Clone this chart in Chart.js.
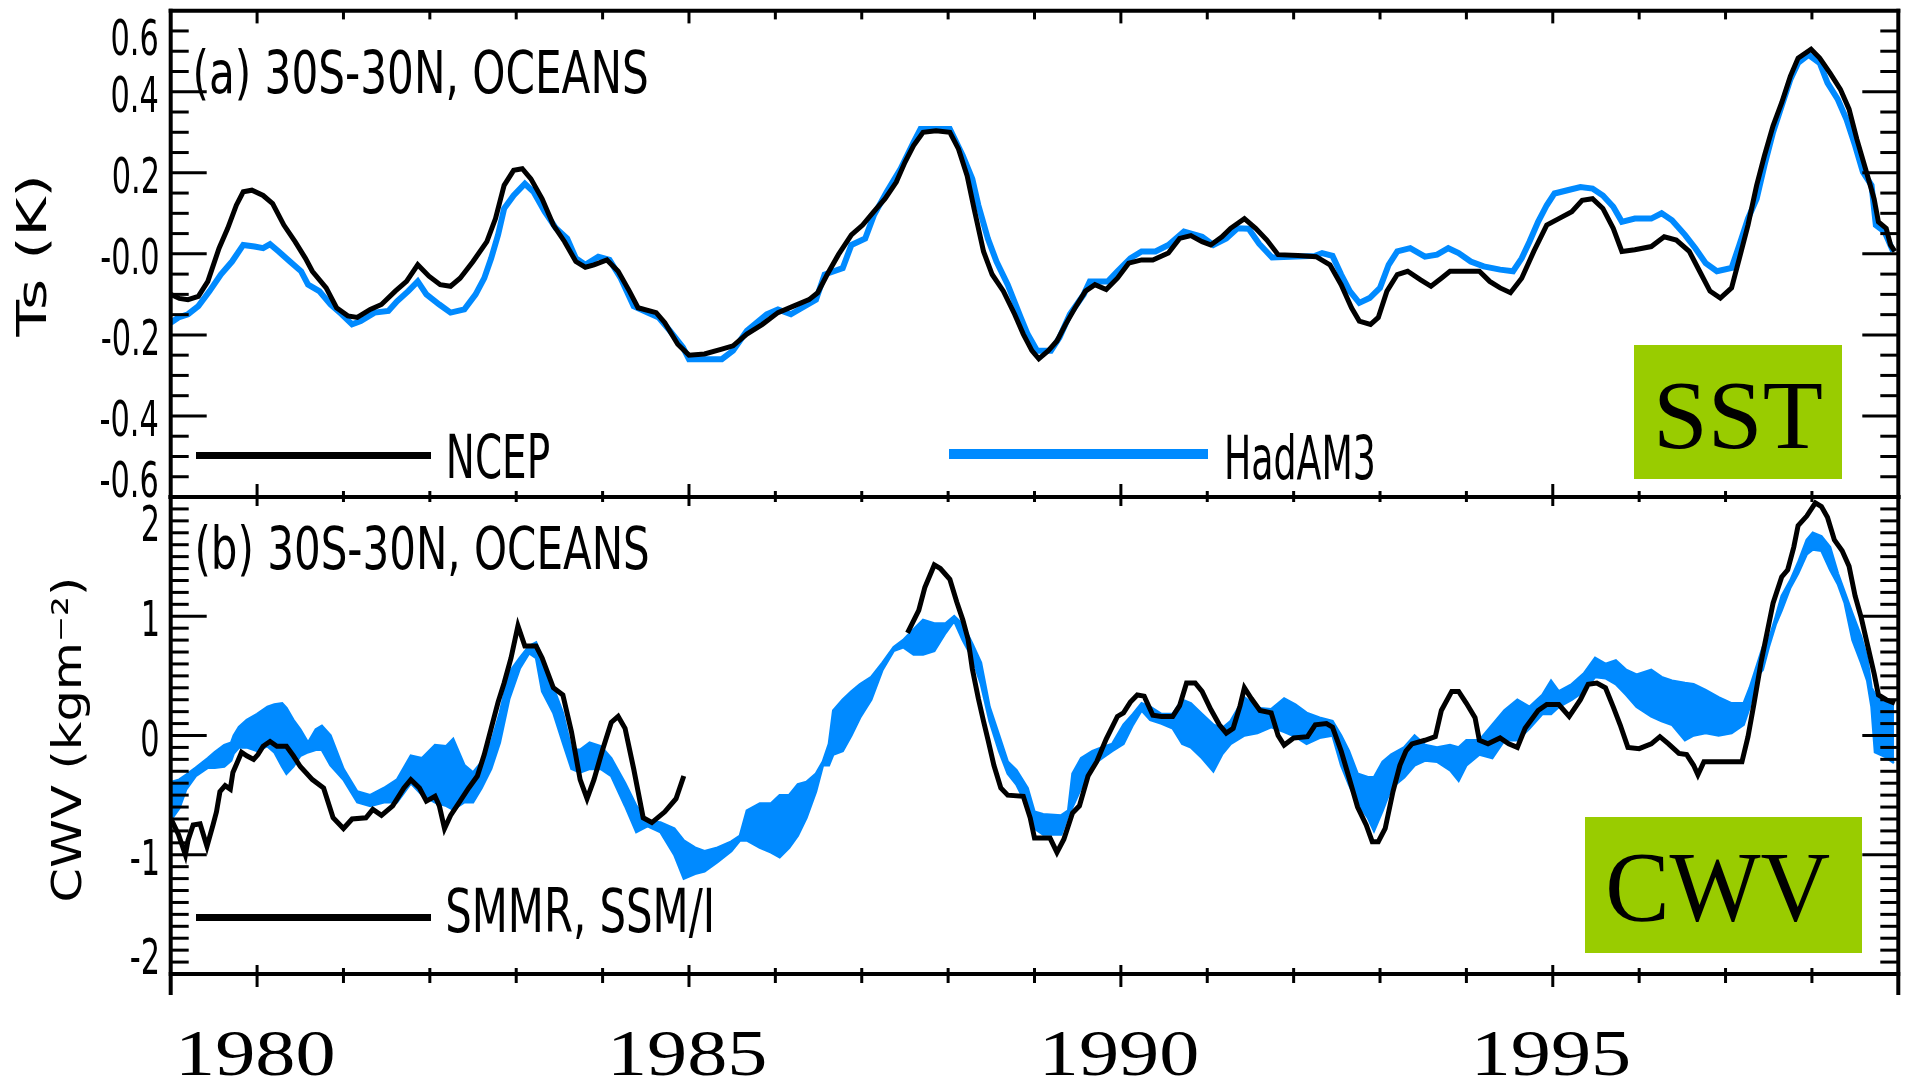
<!DOCTYPE html>
<html>
<head>
<meta charset="utf-8">
<title>Ts and CWV, 30S-30N oceans</title>
<script src="https://cdn.jsdelivr.net/npm/chart.js@4.4.0/dist/chart.umd.min.js"></script>
<style>
  html, body { margin: 0; padding: 0; background: #fff; width: 1907px; height: 1077px; overflow: hidden; }
  canvas { position: absolute; left: 0; top: 0; }
</style>
</head>
<body>
<canvas id="tsChart" width="1907" height="1077"></canvas>
<canvas id="cwvChart" width="1907" height="1077"></canvas>
<script>
// ---------------- data ----------------
// Surface temperature anomaly (K), [year, value]
const ncepTs = [
  [1979.00,-0.10],[1979.10,-0.11],[1979.20,-0.113],[1979.32,-0.105],[1979.43,-0.068],[1979.56,0.014],[1979.66,0.063],[1979.76,0.12],[1979.84,0.153],[1979.94,0.157],
  [1980.07,0.144],[1980.18,0.124],[1980.31,0.071],[1980.44,0.03],[1980.56,-0.011],[1980.64,-0.043],[1980.80,-0.084],[1980.92,-0.133],[1981.05,-0.153],[1981.16,-0.157],
  [1981.31,-0.137],[1981.44,-0.125],[1981.60,-0.092],[1981.73,-0.068],[1981.86,-0.027],[1981.99,-0.055],[1982.12,-0.076],[1982.24,-0.08],[1982.35,-0.06],[1982.50,-0.019],
  [1982.66,0.03],[1982.76,0.087],[1982.86,0.169],[1982.97,0.206],[1983.07,0.21],[1983.17,0.185],[1983.30,0.136],[1983.43,0.071],[1983.56,0.03],[1983.69,-0.019],
  [1983.80,-0.033],[1983.90,-0.027],[1984.05,-0.015],[1984.18,-0.043],[1984.31,-0.092],[1984.41,-0.133],[1984.62,-0.145],[1984.72,-0.17],[1984.87,-0.223],[1985.00,-0.25],
  [1985.18,-0.247],[1985.38,-0.235],[1985.51,-0.227],[1985.67,-0.198],[1985.85,-0.174],[1986.03,-0.145],[1986.21,-0.129],[1986.39,-0.113],[1986.49,-0.096],[1986.60,-0.051],
  [1986.73,-0.002],[1986.88,0.047],[1987.01,0.071],[1987.14,0.104],[1987.27,0.136],[1987.40,0.177],[1987.50,0.226],[1987.60,0.267],[1987.71,0.30],[1987.86,0.304],
  [1988.02,0.30],[1988.12,0.259],[1988.22,0.193],[1988.30,0.112],[1988.41,0.006],[1988.51,-0.051],[1988.64,-0.092],[1988.77,-0.149],[1988.87,-0.198],[1988.97,-0.239],
  [1989.05,-0.259],[1989.16,-0.239],[1989.26,-0.215],[1989.36,-0.174],[1989.47,-0.133],[1989.59,-0.092],[1989.70,-0.076],[1989.83,-0.088],[1989.96,-0.06],[1990.09,-0.023],
  [1990.24,-0.015],[1990.37,-0.015],[1990.55,0.002],[1990.68,0.038],[1990.81,0.045],[1990.94,0.03],[1991.04,0.022],[1991.17,0.042],[1991.27,0.063],[1991.43,0.087],
  [1991.56,0.063],[1991.69,0.034],[1991.82,-0.002],[1992.05,-0.004],[1992.26,-0.007],[1992.42,-0.027],[1992.55,-0.076],[1992.67,-0.133],[1992.76,-0.166],[1992.89,-0.174],
  [1992.98,-0.157],[1993.08,-0.092],[1993.20,-0.051],[1993.32,-0.043],[1993.47,-0.064],[1993.59,-0.08],[1993.71,-0.06],[1993.81,-0.043],[1994.15,-0.043],[1994.27,-0.068],
  [1994.39,-0.084],[1994.51,-0.096],[1994.64,-0.06],[1994.78,0.006],[1994.93,0.071],[1995.07,0.087],[1995.22,0.104],[1995.34,0.132],[1995.46,0.136],[1995.58,0.112],
  [1995.70,0.063],[1995.80,0.006],[1995.95,0.01],[1996.14,0.018],[1996.29,0.042],[1996.43,0.034],[1996.58,0.006],[1996.70,-0.043],[1996.82,-0.092],[1996.94,-0.109],
  [1997.07,-0.084],[1997.16,-0.011],[1997.26,0.071],[1997.36,0.169],[1997.45,0.242],[1997.55,0.316],[1997.65,0.373],[1997.75,0.438],[1997.84,0.483],[1997.99,0.505],
  [1998.09,0.483],[1998.21,0.446],[1998.33,0.406],[1998.43,0.357],[1998.52,0.283],[1998.62,0.21],[1998.72,0.136],[1998.77,0.079],[1998.86,0.063],[1998.91,0.022],
  [1998.96,0.006]
];

const hadam3Ts = [
  [1979.00,-0.17],[1979.09,-0.157],[1979.20,-0.149],[1979.32,-0.129],[1979.45,-0.092],[1979.58,-0.051],[1979.71,-0.019],[1979.84,0.022],[1979.97,0.018],[1980.07,0.014],
  [1980.15,0.024],[1980.25,0.006],[1980.38,-0.019],[1980.51,-0.043],[1980.59,-0.076],[1980.72,-0.092],[1980.85,-0.125],[1980.98,-0.149],[1981.10,-0.174],[1981.20,-0.166],
  [1981.36,-0.145],[1981.52,-0.141],[1981.62,-0.117],[1981.75,-0.092],[1981.86,-0.068],[1981.96,-0.10],[1982.11,-0.125],[1982.24,-0.145],[1982.40,-0.137],[1982.53,-0.10],
  [1982.63,-0.06],[1982.71,-0.011],[1982.79,0.047],[1982.86,0.112],[1982.97,0.144],[1983.10,0.173],[1983.20,0.153],[1983.33,0.104],[1983.46,0.063],[1983.59,0.038],
  [1983.69,-0.011],[1983.80,-0.027],[1983.95,-0.007],[1984.08,-0.015],[1984.21,-0.06],[1984.36,-0.129],[1984.52,-0.145],[1984.65,-0.157],[1984.78,-0.19],[1984.93,-0.231],
  [1985.00,-0.26],[1985.38,-0.26],[1985.51,-0.239],[1985.67,-0.19],[1985.90,-0.149],[1986.03,-0.137],[1986.18,-0.149],[1986.31,-0.133],[1986.47,-0.113],[1986.57,-0.051],
  [1986.78,-0.035],[1986.88,0.022],[1987.04,0.038],[1987.14,0.095],[1987.29,0.153],[1987.45,0.21],[1987.60,0.275],[1987.68,0.308],[1988.02,0.308],[1988.17,0.242],
  [1988.28,0.185],[1988.35,0.12],[1988.46,0.038],[1988.56,-0.019],[1988.69,-0.076],[1988.84,-0.157],[1988.92,-0.198],[1989.03,-0.239],[1989.19,-0.239],[1989.29,-0.206],
  [1989.41,-0.149],[1989.57,-0.10],[1989.64,-0.068],[1989.85,-0.068],[1989.96,-0.043],[1990.11,-0.011],[1990.24,0.006],[1990.40,0.006],[1990.55,0.022],[1990.73,0.055],
  [1990.94,0.042],[1991.07,0.022],[1991.22,0.038],[1991.35,0.063],[1991.48,0.062],[1991.60,0.025],[1991.75,-0.009],[1992.25,-0.005],[1992.33,0.002],[1992.45,-0.005],
  [1992.55,-0.051],[1992.65,-0.092],[1992.76,-0.121],[1992.88,-0.109],[1993.00,-0.084],[1993.10,-0.027],[1993.20,0.006],[1993.35,0.014],[1993.52,-0.007],[1993.66,-0.002],
  [1993.79,0.014],[1993.91,0.002],[1994.05,-0.019],[1994.20,-0.031],[1994.39,-0.039],[1994.54,-0.043],[1994.64,-0.011],[1994.73,0.03],[1994.83,0.079],[1994.93,0.12],
  [1995.02,0.149],[1995.17,0.157],[1995.32,0.165],[1995.46,0.161],[1995.58,0.144],[1995.70,0.116],[1995.80,0.079],[1995.95,0.087],[1996.14,0.087],[1996.26,0.10],
  [1996.38,0.083],[1996.53,0.047],[1996.65,0.014],[1996.77,-0.023],[1996.90,-0.043],[1997.07,-0.035],[1997.16,0.022],[1997.26,0.087],[1997.36,0.136],[1997.45,0.218],
  [1997.55,0.30],[1997.65,0.365],[1997.75,0.43],[1997.84,0.471],[1997.96,0.491],[1998.09,0.471],[1998.18,0.422],[1998.30,0.381],[1998.40,0.332],[1998.50,0.267],
  [1998.59,0.202],[1998.69,0.169],[1998.74,0.071],[1998.84,0.055],[1998.94,0.006]
];

// Column water vapour anomaly (kg m-2), [year, value]
const smmrCwv = [
  [1979.01,-0.71],[1979.09,-0.83],[1979.17,-1.0],[1979.20,-0.88],[1979.26,-0.75],[1979.34,-0.74],[1979.42,-0.93],[1979.49,-0.75],[1979.53,-0.64],[1979.57,-0.47],
  [1979.63,-0.42],[1979.69,-0.45],[1979.72,-0.31],[1979.78,-0.21],[1979.82,-0.14],[1979.88,-0.17],[1979.96,-0.20],[1980.01,-0.16],[1980.07,-0.09],[1980.15,-0.05],
  [1980.23,-0.09],[1980.34,-0.09],[1980.42,-0.17],[1980.50,-0.26],[1980.64,-0.37],[1980.77,-0.44],[1980.88,-0.69],[1981.00,-0.78],[1981.10,-0.70],[1981.26,-0.69],
  [1981.34,-0.62],[1981.44,-0.67],[1981.57,-0.59],[1981.70,-0.44],[1981.78,-0.37],[1981.88,-0.44],[1981.96,-0.55],[1982.06,-0.51],[1982.11,-0.59],[1982.17,-0.78],
  [1982.24,-0.67],[1982.35,-0.55],[1982.45,-0.44],[1982.55,-0.34],[1982.63,-0.16],[1982.71,0.06],[1982.79,0.28],[1982.86,0.44],[1982.94,0.65],[1983.02,0.92],
  [1983.10,0.75],[1983.23,0.75],[1983.30,0.65],[1983.43,0.40],[1983.54,0.34],[1983.64,0.03],[1983.74,-0.37],[1983.82,-0.53],[1983.90,-0.37],[1984.00,-0.12],
  [1984.10,0.11],[1984.18,0.16],[1984.26,0.06],[1984.36,-0.28],[1984.47,-0.69],[1984.57,-0.73],[1984.72,-0.64],[1984.85,-0.53],[1984.94,-0.34]
];

const ssmiCwv = [
  [1987.53,0.86],[1987.66,1.05],[1987.73,1.24],[1987.84,1.43],[1987.91,1.40],[1988.02,1.31],[1988.10,1.12],[1988.17,0.97],[1988.23,0.81],[1988.28,0.56],
  [1988.35,0.31],[1988.41,0.12],[1988.46,-0.03],[1988.53,-0.25],[1988.61,-0.44],[1988.69,-0.50],[1988.87,-0.51],[1988.95,-0.69],[1989.00,-0.86],[1989.18,-0.86],
  [1989.26,-0.98],[1989.34,-0.87],[1989.44,-0.65],[1989.52,-0.59],[1989.62,-0.34],[1989.72,-0.22],[1989.83,-0.03],[1989.96,0.16],[1990.03,0.19],[1990.11,0.28],
  [1990.19,0.34],[1990.27,0.33],[1990.37,0.17],[1990.47,0.16],[1990.60,0.16],[1990.68,0.25],[1990.76,0.44],[1990.86,0.44],[1990.94,0.37],[1991.04,0.22],
  [1991.14,0.09],[1991.22,0.02],[1991.30,0.06],[1991.38,0.25],[1991.43,0.40],[1991.51,0.31],[1991.61,0.21],[1991.74,0.19],[1991.82,0.0],[1991.89,-0.08],
  [1992.00,-0.02],[1992.16,-0.01],[1992.25,0.09],[1992.38,0.10],[1992.45,0.07],[1992.55,-0.13],[1992.64,-0.35],[1992.74,-0.60],[1992.84,-0.75],[1992.91,-0.89],
  [1992.98,-0.89],[1993.06,-0.78],[1993.15,-0.47],[1993.23,-0.25],[1993.30,-0.13],[1993.37,-0.07],[1993.52,-0.04],[1993.64,-0.01],[1993.71,0.21],[1993.83,0.37],
  [1993.91,0.37],[1994.00,0.27],[1994.10,0.15],[1994.15,-0.04],[1994.25,-0.07],[1994.39,-0.02],[1994.49,-0.07],[1994.59,-0.10],[1994.68,0.06],[1994.83,0.21],
  [1994.93,0.26],[1995.07,0.26],[1995.19,0.16],[1995.32,0.30],[1995.41,0.43],[1995.51,0.44],[1995.61,0.40],[1995.70,0.24],[1995.78,0.09],[1995.87,-0.10],
  [1996.00,-0.11],[1996.14,-0.07],[1996.24,-0.01],[1996.34,-0.07],[1996.46,-0.15],[1996.55,-0.16],[1996.63,-0.25],[1996.68,-0.33],[1996.75,-0.22],[1997.19,-0.22],
  [1997.26,-0.01],[1997.33,0.27],[1997.41,0.61],[1997.48,0.86],[1997.55,1.11],[1997.65,1.33],[1997.72,1.39],[1997.79,1.58],[1997.84,1.76],[1997.94,1.84],
  [1998.04,1.95],[1998.11,1.92],[1998.18,1.83],[1998.26,1.64],[1998.35,1.55],[1998.43,1.42],[1998.50,1.17],[1998.57,0.99],[1998.64,0.77],[1998.72,0.52],
  [1998.77,0.34],[1998.86,0.30],[1998.96,0.27]
];

// HadAM3 ensemble spread: [year, upper, lower]
const hadam3CwvRange = [
  [1979.01,-0.39,-0.70],[1979.10,-0.37,-0.61],[1979.18,-0.33,-0.45],[1979.29,-0.27,-0.34],[1979.43,-0.19,-0.27],[1979.51,-0.14,-0.27],[1979.62,-0.08,-0.26],[1979.70,-0.06,-0.21],
  [1979.73,0.00,-0.15],[1979.79,0.07,-0.10],[1979.88,0.13,-0.10],[1980.00,0.18,-0.13],[1980.12,0.24,-0.09],[1980.20,0.26,-0.14],[1980.29,0.27,-0.26],[1980.34,0.23,-0.32],
  [1980.42,0.13,-0.26],[1980.50,0.05,-0.17],[1980.59,-0.06,-0.14],[1980.68,0.05,-0.12],[1980.75,0.08,-0.12],[1980.85,0.00,-0.25],[1981.00,-0.28,-0.37],[1981.16,-0.47,-0.56],
  [1981.31,-0.50,-0.59],[1981.47,-0.44,-0.56],[1981.62,-0.37,-0.56],[1981.78,-0.17,-0.40],[1981.91,-0.19,-0.50],[1982.06,-0.08,-0.56],[1982.19,-0.09,-0.59],[1982.27,-0.03,-0.62],
  [1982.40,-0.25,-0.56],[1982.50,-0.31,-0.56],[1982.60,-0.22,-0.44],[1982.71,-0.06,-0.28],[1982.81,0.19,-0.06],[1982.92,0.53,0.31],[1983.04,0.65,0.56],[1983.15,0.75,0.69],
  [1983.23,0.78,0.65],[1983.30,0.65,0.37],[1983.43,0.40,0.19],[1983.54,0.19,-0.06],[1983.64,-0.12,-0.28],[1983.74,-0.12,-0.31],[1983.85,-0.06,-0.28],[1983.98,-0.09,-0.28],
  [1984.10,-0.19,-0.34],[1984.26,-0.40,-0.59],[1984.39,-0.59,-0.81],[1984.52,-0.72,-0.76],[1984.67,-0.73,-0.81],[1984.83,-0.78,-1.00],[1984.94,-0.88,-1.20],[1985.07,-0.94,-1.16],
  [1985.18,-0.97,-1.14],[1985.33,-0.94,-1.06],[1985.49,-0.89,-0.97],[1985.59,-0.84,-0.88],[1985.67,-0.63,-0.88],[1985.82,-0.57,-0.94],[1985.95,-0.57,-0.98],[1986.05,-0.50,-1.02],
  [1986.16,-0.50,-0.94],[1986.26,-0.41,-0.84],[1986.36,-0.39,-0.69],[1986.47,-0.32,-0.47],[1986.55,-0.22,-0.25],[1986.62,-0.07,-0.25],[1986.67,0.21,-0.16],[1986.78,0.30,-0.13],
  [1986.88,0.37,0.00],[1986.98,0.43,0.15],[1987.11,0.49,0.30],[1987.24,0.61,0.55],[1987.37,0.74,0.71],[1987.48,0.80,0.74],[1987.60,0.89,0.68],[1987.71,0.97,0.68],
  [1987.84,0.94,0.71],[1987.97,0.94,0.86],[1988.07,1.00,0.96],[1988.17,0.93,0.80],[1988.28,0.77,0.65],[1988.38,0.61,0.43],[1988.48,0.24,0.12],[1988.59,0.00,-0.13],
  [1988.69,-0.22,-0.32],[1988.79,-0.29,-0.41],[1988.92,-0.44,-0.60],[1989.00,-0.64,-0.78],[1989.10,-0.66,-0.83],[1989.31,-0.67,-0.83],[1989.39,-0.63,-0.67],[1989.44,-0.32,-0.60],
  [1989.54,-0.19,-0.44],[1989.67,-0.13,-0.25],[1989.78,-0.10,-0.19],[1989.90,-0.07,-0.13],[1990.03,0.09,-0.07],[1990.14,0.18,0.09],[1990.24,0.27,0.21],[1990.34,0.24,0.13],
  [1990.47,0.18,0.10],[1990.60,0.18,0.06],[1990.71,0.30,-0.07],[1990.81,0.27,-0.10],[1990.94,0.18,-0.19],[1991.07,0.09,-0.30],[1991.17,0.06,-0.16],[1991.27,0.12,-0.07],
  [1991.43,0.32,0.00],[1991.58,0.23,0.02],[1991.74,0.22,0.07],[1991.89,0.31,0.03],[1992.02,0.26,-0.01],[1992.15,0.19,-0.07],[1992.30,0.15,-0.02],[1992.45,0.12,0.00],
  [1992.55,0.00,-0.25],[1992.64,-0.13,-0.41],[1992.74,-0.32,-0.57],[1992.86,-0.35,-0.69],[1992.93,-0.35,-0.80],[1993.03,-0.22,-0.63],[1993.13,-0.16,-0.44],[1993.28,-0.10,-0.35],
  [1993.40,0.00,-0.25],[1993.52,-0.08,-0.21],[1993.66,-0.10,-0.22],[1993.81,-0.08,-0.29],[1993.91,-0.10,-0.38],[1994.00,-0.04,-0.25],[1994.15,-0.04,-0.16],[1994.30,0.09,-0.19],
  [1994.44,0.21,-0.04],[1994.59,0.30,-0.04],[1994.73,0.24,0.06],[1994.88,0.34,0.18],[1994.98,0.46,0.18],[1995.07,0.37,0.24],[1995.22,0.43,0.30],[1995.36,0.52,0.37],
  [1995.49,0.65,0.49],[1995.61,0.60,0.48],[1995.73,0.63,0.43],[1995.85,0.55,0.34],[1995.97,0.51,0.24],[1996.14,0.55,0.16],[1996.26,0.49,0.12],[1996.38,0.46,0.09],
  [1996.53,0.44,-0.04],[1996.63,0.43,0.00],[1996.77,0.38,0.02],[1996.92,0.32,0.00],[1997.07,0.27,0.02],[1997.21,0.27,0.09],[1997.28,0.40,0.24],[1997.36,0.58,0.49],
  [1997.43,0.74,0.55],[1997.50,0.80,0.74],[1997.58,0.99,0.93],[1997.65,1.17,1.05],[1997.75,1.30,1.24],[1997.84,1.45,1.36],[1997.94,1.64,1.52],[1998.01,1.70,1.56],
  [1998.11,1.67,1.55],[1998.21,1.58,1.39],[1998.30,1.36,1.27],[1998.38,1.20,1.11],[1998.47,1.02,0.80],[1998.57,0.83,0.61],[1998.64,0.65,0.46],[1998.69,0.40,0.24],
  [1998.73,0.35,-0.14],[1998.85,0.29,-0.18],[1998.95,0.27,-0.23]
];

// Axis tick labels
const tsTickValues = [-0.6, -0.4, -0.2, 0, 0.2, 0.4, 0.6];
const tsTickLabels = ['-0.6', '-0.4', '-0.2', '-0.0', '0.2', '0.4', '0.6'];
const cwvTickValues = [-2, -1, 0, 1, 2];
const cwvTickLabels = ['-2', '-1', '0', '1', '2'];
const yearTickValues = [1980, 1985, 1990, 1995];
const yearTickLabels = ['1980', '1985', '1990', '1995'];

// ---------------- helpers ----------------
const BLUE = 'rgb(0,138,255)';
const GREEN = '#99cc00';
const SANS = '"DejaVu Sans"';
const SERIF = '"Liberation Serif"';
const YEAR_MIN = 1979, YEAR_MAX = 1999;

const xy = rows => rows.map(r => ({ x: r[0], y: r[1] }));
const xyCol = (rows, c) => rows.map(r => ({ x: r[0], y: r[c] }));

// Draw text so that its ink spans [left, right], stretched horizontally.
function fitInk(ctx, text, left, right, baseline, font) {
  ctx.save();
  ctx.font = font; ctx.textAlign = 'left'; ctx.textBaseline = 'alphabetic';
  const m = ctx.measureText(text);
  const w = m.actualBoundingBoxLeft + m.actualBoundingBoxRight;
  const s = (right - left) / w;
  ctx.translate(left + m.actualBoundingBoxLeft * s, baseline);
  ctx.scale(s, 1);
  ctx.fillText(text, 0, 0);
  ctx.restore();
}

// Condensed text whose ink ends at x = right.
function condensedRight(ctx, text, right, baseline, font, sx) {
  ctx.save();
  ctx.font = font; ctx.textAlign = 'left'; ctx.textBaseline = 'alphabetic';
  const m = ctx.measureText(text);
  ctx.translate(right - m.actualBoundingBoxRight * sx, baseline);
  ctx.scale(sx, 1);
  ctx.fillText(text, 0, 0);
  ctx.restore();
}

// Vertical text reading bottom to top, centred on centerY, baseline at x = baselineX.
function verticalFit(ctx, text, baselineX, centerY, length, font) {
  ctx.save();
  ctx.font = font; ctx.textAlign = 'left'; ctx.textBaseline = 'alphabetic';
  const m = ctx.measureText(text);
  const w = m.actualBoundingBoxLeft + m.actualBoundingBoxRight;
  const s = length / w;
  ctx.translate(baselineX, centerY);
  ctx.rotate(-Math.PI / 2);
  ctx.scale(s, 1);
  ctx.fillText(text, -w / 2 + m.actualBoundingBoxLeft, 0);
  ctx.restore();
}

function line(ctx, x1, y1, x2, y2) {
  ctx.beginPath(); ctx.moveTo(x1, y1); ctx.lineTo(x2, y2); ctx.stroke();
}

// Box frame with the side axes running a little below the bottom edge.
function drawFrame(ctx, a, below) {
  ctx.save();
  ctx.strokeStyle = '#000'; ctx.lineWidth = 4; ctx.lineCap = 'square';
  line(ctx, a.left, a.top, a.right, a.top);
  line(ctx, a.left, a.bottom, a.right, a.bottom);
  line(ctx, a.left, a.top, a.left, a.bottom + below);
  line(ctx, a.right, a.top, a.right, a.bottom + below);
  ctx.restore();
}

// Inward ticks on both vertical axes.
function yAxisTicks(ctx, a, scale, step, majorStep) {
  ctx.save();
  ctx.strokeStyle = '#000'; ctx.lineWidth = 3; ctx.lineCap = 'butt';
  const n = Math.round((scale.max - scale.min) / step);
  for (let i = 1; i < n; i++) {
    const v = scale.min + i * step;
    const r = v / majorStep;
    const major = Math.abs(r - Math.round(r)) < 1e-6;
    const len = major ? 36 : 18;
    const py = scale.getPixelForValue(v);
    line(ctx, a.left, py, a.left + len, py);
    line(ctx, a.right, py, a.right - len, py);
  }
  ctx.restore();
}

// Year ticks along a horizontal axis; dir +1 draws downward, -1 upward.
function yearTicks(ctx, scale, yPos, dir, majorLen, minorLen) {
  ctx.save();
  ctx.strokeStyle = '#000'; ctx.lineWidth = 3; ctx.lineCap = 'butt';
  for (let yr = Math.ceil(scale.min + 1e-6); yr < scale.max; yr++) {
    const len = yr % 5 === 0 ? majorLen : minorLen;
    const px = scale.getPixelForValue(yr);
    line(ctx, px, yPos, px, yPos + dir * len);
  }
  ctx.restore();
}

// Value labels left of the axis, kept inside the panel height.
function yAxisLabels(ctx, a, scale, values, labels) {
  ctx.save();
  ctx.fillStyle = '#000';
  const half = 18;
  values.forEach((v, i) => {
    let cy = scale.getPixelForValue(v) + 2;
    cy = Math.max(cy, a.top + 8 + half);
    cy = Math.min(cy, a.bottom - half);
    condensedRight(ctx, labels[i], 157.5, cy + half, '49px ' + SANS, 0.62);
  });
  ctx.restore();
}

// ---------------- top panel: Ts ----------------
const tsDecor = {
  id: 'tsDecor',
  afterDraw(chart) {
    const { ctx, chartArea: a, scales: { x, y } } = chart;
    drawFrame(ctx, a, 0);
    yAxisTicks(ctx, a, y, 0.05, 0.2);
    yearTicks(ctx, x, a.top, 1, 12.7, 8.7);
    yearTicks(ctx, x, a.bottom, -1, 13, 6);
    yAxisLabels(ctx, a, y, tsTickValues, tsTickLabels);

    ctx.save();
    ctx.fillStyle = '#000';
    verticalFit(ctx, 'Ts (K)', 46, 258, 160, '40px ' + SANS);
    fitInk(ctx, '(a) 30S-30N, OCEANS', 196, 647, 93, '59px ' + SANS);

    // legend samples
    ctx.fillRect(196, 452, 235, 7);
    fitInk(ctx, 'NCEP', 449, 549, 478, '61px ' + SANS);
    ctx.fillStyle = BLUE;
    ctx.fillRect(949, 449, 259, 10);
    ctx.fillStyle = '#000';
    fitInk(ctx, 'HadAM3', 1227, 1373, 479, '61px ' + SANS);

    // quantity tag
    ctx.fillStyle = GREEN;
    ctx.fillRect(1634, 345, 208, 134);
    ctx.fillStyle = '#000';
    fitInk(ctx, 'SST', 1659, 1822, 448, '98px ' + SERIF);
    ctx.restore();
  }
};

new Chart(document.getElementById('tsChart'), {
  type: 'line',
  data: {
    datasets: [
      { label: 'NCEP', data: xy(ncepTs), borderColor: '#000', borderWidth: 5,
        pointRadius: 0, tension: 0, fill: false },
      { label: 'HadAM3', data: xy(hadam3Ts), borderColor: BLUE, borderWidth: 6,
        pointRadius: 0, tension: 0, fill: false }
    ]
  },
  options: {
    responsive: false, devicePixelRatio: 1, animation: false,
    layout: { padding: { left: 170.7, right: 8.7, top: 10.7, bottom: 580 } },
    scales: {
      x: { type: 'linear', min: YEAR_MIN, max: YEAR_MAX, display: false },
      y: { type: 'linear', min: -0.6, max: 0.6, display: false }
    },
    plugins: { legend: { display: false }, tooltip: { enabled: false } }
  },
  plugins: [tsDecor]
});

// ---------------- bottom panel: CWV ----------------
const cwvDecor = {
  id: 'cwvDecor',
  afterDraw(chart) {
    const { ctx, chartArea: a, scales: { x, y } } = chart;
    drawFrame(ctx, a, 19);
    yAxisTicks(ctx, a, y, 0.1, 1);
    yearTicks(ctx, x, a.top, 1, 9, 5);
    yearTicks(ctx, x, a.bottom, -1, 9, 6);
    yearTicks(ctx, x, a.bottom, 1, 13, 9);
    yAxisLabels(ctx, a, y, cwvTickValues, cwvTickLabels);

    ctx.save();
    ctx.fillStyle = '#000';
    yearTickValues.forEach((v, i) => {
      const px = x.getPixelForValue(v);
      fitInk(ctx, yearTickLabels[i], px - 76, px + 76, 1075, '66px ' + SERIF);
    });

    verticalFit(ctx, 'CWV (kgm\u207B\u00B2)', 81, 740, 320, '40px ' + SANS);
    fitInk(ctx, '(b) 30S-30N, OCEANS', 198, 648, 569, '59px ' + SANS);

    ctx.fillRect(196, 914, 235, 7);
    fitInk(ctx, 'SMMR, SSM/I', 448, 711, 932, '61px ' + SANS);

    ctx.fillStyle = GREEN;
    ctx.fillRect(1585, 817, 277, 136);
    ctx.fillStyle = '#000';
    fitInk(ctx, 'CWV', 1609, 1830, 920, '100px ' + SERIF);
    ctx.restore();
  }
};

new Chart(document.getElementById('cwvChart'), {
  type: 'line',
  data: {
    datasets: [
      { label: 'SMMR', data: xy(smmrCwv), borderColor: '#000', borderWidth: 5,
        pointRadius: 0, tension: 0, fill: false },
      { label: 'SSM/I', data: xy(ssmiCwv), borderColor: '#000', borderWidth: 5,
        pointRadius: 0, tension: 0, fill: false },
      { label: 'HadAM3 upper', data: xyCol(hadam3CwvRange, 1), borderColor: BLUE, borderWidth: 2.5,
        pointRadius: 0, tension: 0, fill: false },
      { label: 'HadAM3 lower', data: xyCol(hadam3CwvRange, 2), borderColor: BLUE, borderWidth: 2.5,
        backgroundColor: BLUE, pointRadius: 0, tension: 0, fill: '-1' }
    ]
  },
  options: {
    responsive: false, devicePixelRatio: 1, animation: false,
    layout: { padding: { left: 170.7, right: 8.7, top: 497, bottom: 103 } },
    scales: {
      x: { type: 'linear', min: YEAR_MIN, max: YEAR_MAX, display: false },
      y: { type: 'linear', min: -2, max: 2, display: false }
    },
    plugins: { legend: { display: false }, tooltip: { enabled: false } }
  },
  plugins: [cwvDecor]
});
</script>
</body>
</html>
